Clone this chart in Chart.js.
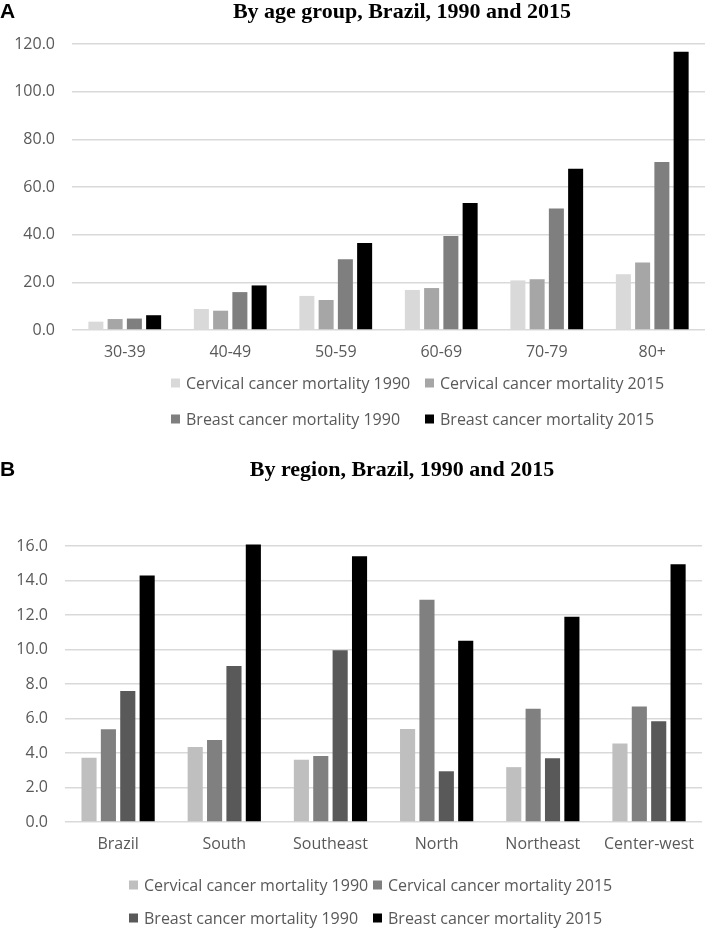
<!DOCTYPE html>
<html>
<head>
<meta charset="utf-8">
<script src="https://cdn.jsdelivr.net/npm/chart.js@4.4.1/dist/chart.umd.min.js"></script>
<style>
  html, body { margin: 0; padding: 0; background: #fff; }
  #wrapA { position: absolute; left: 0; top: 0; width: 707px; height: 450px; }
  #wrapB { position: absolute; left: 0; top: 450px; width: 707px; height: 478px; }
</style>
</head>
<body>
<div id="wrapA"><canvas id="graficoIdade"></canvas></div>
<div id="wrapB"><canvas id="graficoRegiao"></canvas></div>
<script>
const faixasEtarias = ['30-39', '40-49', '50-59', '60-69', '70-79', '80+'];
const regioes = ['Brazil', 'South', 'Southeast', 'North', 'Northeast', 'Center-west'];

const nomesSeries = [
	'Cervical cancer mortality 1990',
	'Cervical cancer mortality 2015',
	'Breast cancer mortality 1990',
	'Breast cancer mortality 2015',
];

// A - por faixa etaria
const colo1990Idade = [3.5, 8.8, 14.3, 16.8, 20.8, 23.4];
const colo2015Idade = [4.6, 8.1, 12.6, 17.6, 21.3, 28.3];
const mama1990Idade = [4.8, 15.9, 29.7, 39.4, 51.0, 70.5];
const mama2015Idade = [6.2, 18.7, 36.5, 53.3, 67.7, 116.8];

// B - por regiao
const colo1990Regiao = [3.73, 4.35, 3.61, 5.39, 3.18, 4.55];
const colo2015Regiao = [5.37, 4.76, 3.82, 12.88, 6.57, 6.69];
const mama1990Regiao = [7.59, 9.04, 9.96, 2.94, 3.69, 5.84];
const mama2015Regiao = [14.29, 16.08, 15.41, 10.51, 11.90, 14.94];

const coresA = ['#d9d9d9', '#a6a6a6', '#7f7f7f', '#000000'];
const coresB = ['#bfbfbf', '#808080', '#595959', '#000000'];

const corTexto = '#595959';
const fonteEixo = "'Open Sans', sans-serif";

// titulo do painel e legenda em grade, desenhados no canvas
const painelPlugin = {
	id: 'painel',
	afterDraw(chart, args, opts) {
		const ctx = chart.ctx;
		ctx.save();
		ctx.fillStyle = '#000';
		ctx.textBaseline = 'alphabetic';
		ctx.textAlign = 'left';
		ctx.font = "bold 21px 'Liberation Sans', Arial, sans-serif";
		ctx.fillText(opts.letra, 0, opts.tituloY);
		ctx.textAlign = 'center';
		ctx.font = "bold 22px 'Liberation Serif', 'Times New Roman', serif";
		ctx.fillText(opts.titulo, opts.tituloX, opts.tituloY);

		ctx.font = '16px ' + fonteEixo;
		ctx.textAlign = 'left';
		ctx.textBaseline = 'middle';
		chart.data.datasets.forEach((ds, i) => {
			const linha = Math.floor(i / 2);
			const x = opts.legX + (i % 2) * opts.legCol;
			const y = opts.legY[linha];
			ctx.fillStyle = ds.backgroundColor;
			ctx.fillRect(x, y - 4.5, 9, 9);
			ctx.fillStyle = corTexto;
			ctx.fillText(ds.label, x + 15, y + 1);
		});
		ctx.restore();
	},
};

function montaGrafico(id, categorias, series, cores, maxY, passo, larguraY, alturaX, topo, direita, painel) {
	return new Chart(document.getElementById(id), {
		type: 'bar',
		data: {
			labels: categorias,
			datasets: series.map((valores, i) => ({
				label: nomesSeries[i],
				data: valores,
				backgroundColor: cores[i],
				categoryPercentage: 0.73,
				barPercentage: 0.78,
				clip: false,
			})),
		},
		options: {
			responsive: true,
			maintainAspectRatio: false,
			animation: false,
			layout: {
				padding: { top: topo, right: direita, left: 0, bottom: 0 },
			},
			plugins: {
				legend: { display: false },
				tooltip: { enabled: false },
				painel: painel,
			},
			scales: {
				x: {
					grid: { display: false, drawTicks: false },
					border: { display: false },
					ticks: {
						color: corTexto,
						padding: 13,
						font: { family: fonteEixo, size: 16 },
					},
					afterFit: (eixo) => { eixo.height = alturaX; },
				},
				y: {
					min: 0,
					max: maxY,
					grid: { color: '#d9d9d9', lineWidth: 1.5, drawTicks: false },
					border: { display: false },
					ticks: {
						stepSize: passo,
						color: corTexto,
						padding: 17,
						font: { family: fonteEixo, size: 16 },
						callback: (v) => v.toFixed(1),
					},
					afterFit: (eixo) => { eixo.width = larguraY; },
				},
			},
		},
		plugins: [painelPlugin],
	});
}

document.addEventListener('DOMContentLoaded', () => {
	montaGrafico('graficoIdade', faixasEtarias,
		[colo1990Idade, colo2015Idade, mama1990Idade, mama2015Idade],
		coresA, 120, 20, 72, 120, 44, 2,
		{ letra: 'A', titulo: 'By age group, Brazil, 1990 and 2015', tituloX: 402, tituloY: 18,
		  legX: 171, legCol: 254, legY: [383, 419] });

	montaGrafico('graficoRegiao', regioes,
		[colo1990Regiao, colo2015Regiao, mama1990Regiao, mama2015Regiao],
		coresB, 16, 2, 65, 106, 96, 0,
		{ letra: 'B', titulo: 'By region, Brazil, 1990 and 2015', tituloX: 402, tituloY: 26,
		  legX: 129, legCol: 244, legY: [435, 468] });
});
</script>
</body>
</html>
